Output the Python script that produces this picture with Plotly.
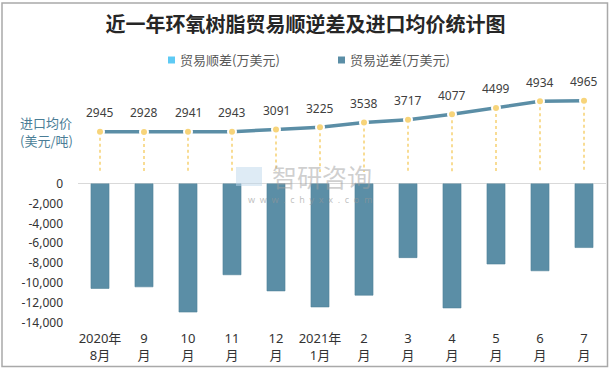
import plotly.graph_objects as go

# ---- data ----
months = ["2020年<br>8月", "9<br>月", "10<br>月", "11<br>月", "12<br>月", "2021年<br>1月",
          "2<br>月", "3<br>月", "4<br>月", "5<br>月", "6<br>月", "7<br>月"]
import_price = [2945, 2928, 2941, 2943, 3091, 3225, 3538, 3717, 4077, 4499, 4934, 4965]
trade_deficit = [-10530, -10370, -12900, -9160, -10780, -12390, -11210, -7440, -12490, -8080, -8760, -6430]
legend_names = ["贸易顺差(万美元)", "贸易逆差(万美元)"]
legend_colors = ["#5ecaf4", "#5b8ea6"]
y_tick_vals = [0, -2000, -4000, -6000, -8000, -10000, -12000, -14000]
y_tick_text = ["0", "-2,000", "-4,000", "-6,000", "-8,000", "-10,000", "-12,000", "-14,000"]
title_text = "近一年环氧树脂贸易顺逆差及进口均价统计图"
price_axis_title = ["进口均价", "(美元/吨)"]

W, H = 611, 371
L, R, T, B = 78, 5, 85, 48
PW, PH = W - L - R, H - T - B


def px(x):
    return (x - L) / PW


def py(y):
    return (H - B - y) / PH


BAR_COLOR = "#5b8ea6"
YELLOW = "#f7d47a"
NUM_FONT = "Noto Sans, Noto Sans CJK SC"
CJK_FONT = "Noto Sans CJK SC"
y2_min, y2_max = 300, 6000

fig = go.Figure()

fig.add_trace(go.Bar(
    x=months, y=trade_deficit, name=legend_names[1], yaxis="y",
    marker=dict(color=BAR_COLOR, line=dict(color="#4f8199", width=0.6)),
    width=0.41, showlegend=False,
))

# dotted drop lines from each price point to the bottom of its axis
drop_x, drop_y = [], []
for m, p in zip(months, import_price):
    drop_x += [m, m, None]
    drop_y += [p, y2_min, None]
fig.add_trace(go.Scatter(
    x=drop_x, y=drop_y, yaxis="y2", mode="lines",
    line=dict(color=YELLOW, width=1.6, dash="dot"),
    showlegend=False, hoverinfo="skip", connectgaps=False,
))

fig.add_trace(go.Scatter(
    x=months, y=import_price, yaxis="y2", mode="lines+markers",
    line=dict(color=BAR_COLOR, width=3.5),
    marker=dict(color=YELLOW, size=8, line=dict(color="white", width=2)),
    showlegend=False,
))

annotations = []
for m, p in zip(months, import_price):
    annotations.append(dict(
        x=m, y=p, xref="x", yref="y2", text=str(p), showarrow=False,
        yshift=19, font=dict(family=NUM_FONT, size=12, color="#404040"),
    ))

# axis title for price (two lines)
for txt, yy in zip(price_axis_title, [122, 140]):
    annotations.append(dict(
        x=px(18), y=py(yy), xref="paper", yref="paper", xanchor="left", yanchor="middle",
        text=txt, showarrow=False, align="left",
        font=dict(family=CJK_FONT, size=13, color="#4a7d96"),
    ))

# legend (manual)
legend_sq_x = [168, 338]
legend_txt_x = [178, 348]
shapes = []
for name, col, sx, tx in zip(legend_names, legend_colors, legend_sq_x, legend_txt_x):
    shapes.append(dict(type="rect", xref="paper", yref="paper",
                       x0=px(sx), x1=px(sx + 7), y0=py(63.5), y1=py(56.5),
                       fillcolor=col, line=dict(width=0)))
    annotations.append(dict(
        x=px(tx), y=py(60), xref="paper", yref="paper", xanchor="left", yanchor="middle",
        text=name, showarrow=False,
        font=dict(family=CJK_FONT, size=13, color="#595959"),
    ))

# watermark
annotations.append(dict(
    x=px(322), y=py(176), xref="paper", yref="paper", text="智研咨询", showarrow=False,
    font=dict(family=CJK_FONT, size=25, color="rgba(160,160,160,0.5)"),
))
annotations.append(dict(
    x=px(310), y=py(199), xref="paper", yref="paper",
    text="w  w  w  .  c  h  y  x  x  .  c  o  m", showarrow=False,
    font=dict(family=NUM_FONT, size=9, color="rgba(150,150,150,0.6)"),
))
shapes.append(dict(type="rect", xref="paper", yref="paper",
                   x0=px(236), x1=px(262), y0=py(186), y1=py(167),
                   fillcolor="rgba(190,215,235,0.5)", line=dict(width=0)))

# outer border
shapes.append(dict(type="rect", xref="paper", yref="paper",
                   x0=px(2), x1=px(607.5), y0=py(366.5), y1=py(3),
                   line=dict(color="#a9a9a9", width=1.5), fillcolor="rgba(0,0,0,0)"))

fig.update_layout(
    width=W, height=H,
    margin=dict(l=L, r=R, t=T, b=B),
    paper_bgcolor="white", plot_bgcolor="white",
    title=dict(text=title_text, x=0.5, xanchor="center", y=1 - 25 / H, yanchor="middle",
               font=dict(family=CJK_FONT, size=20, color="#262626", weight="bold")),
    xaxis=dict(type="category", range=[-0.5, len(months) - 0.5], showgrid=False,
               showline=False, zeroline=False, ticks="", ticklabelstandoff=6,
               tickfont=dict(family=NUM_FONT, size=13, color="#333333")),
    yaxis=dict(domain=[0, py(183.5)], range=[-14000, 0], showgrid=False,
               zeroline=True, zerolinecolor="#d9d9d9", zerolinewidth=1.2,
               showline=False, tickvals=y_tick_vals, ticktext=y_tick_text,
               ticks="", ticklabelstandoff=14,
               tickfont=dict(family=NUM_FONT, size=12, color="#333333")),
    yaxis2=dict(domain=[py(172), 1], range=[y2_min, y2_max], anchor="x",
                visible=False, showgrid=False),
    showlegend=False,
    shapes=shapes,
    annotations=annotations,
    bargap=0.59,
)

fig.write_html("out.html", config={"displayModeBar": False},
               post_script="document.body.style.margin='0';document.body.style.overflow='hidden';")
